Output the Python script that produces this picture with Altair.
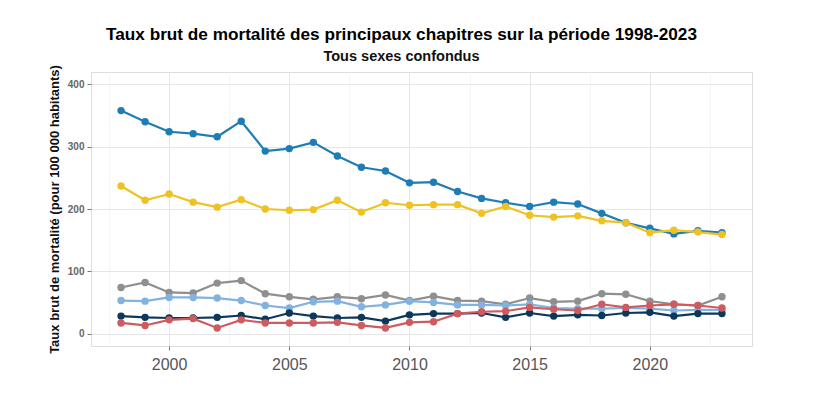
import altair as alt
import pandas as pd

years = list(range(1998, 2024))

series_names = [
    "Appareil circulatoire",
    "Tumeurs",
    "Appareil respiratoire",
    "Causes externes",
    "Système nerveux",
    "Troubles mentaux",
]
series_colors = ["#1f7db6", "#efc224", "#8f8f8f", "#82b2df", "#0d3859", "#cf5b5f"]

circulatoire = [358, 340, 324, 321, 316, 341, 293, 297, 307, 285, 267, 261, 242,
                243, 228, 217, 210, 204, 211, 208, 193, 178, 169, 160, 165, 162]
tumeurs = [237, 214, 224, 211, 203, 215, 200, 198, 199, 214, 195, 210, 206,
           207, 207, 193, 204, 190, 187, 189, 181, 178, 162, 166, 163, 159]
respiratoire = [74, 82, 66, 65, 81, 85, 64, 59, 55, 59, 56, 62, 53,
                60, 53, 52, 47, 57, 51, 52, 64, 63, 52, 47, 45, 59]
externes = [53, 52, 58, 58, 57, 53, 45, 41, 51, 52, 43, 46, 52,
            50, 46, 46, 45, 47, 41, 40, 40, 41, 40, 37, 38, 38]
nerveux = [28, 26, 25, 25, 26, 29, 23, 33, 28, 25, 26, 20, 30,
           32, 32, 33, 26, 33, 28, 30, 29, 33, 34, 28, 32, 32]
mentaux = [17, 13, 22, 24, 9, 22, 17, 17, 17, 18, 13, 9, 18,
           19, 32, 35, 36, 42, 39, 37, 47, 42, 45, 47, 45, 41]

all_values = [circulatoire, tumeurs, respiratoire, externes, nerveux, mentaux]

x_ticks = [1997.5, 2000, 2002.5, 2005, 2007.5, 2010, 2012.5, 2015, 2017.5, 2020, 2022.5]
y_ticks = [0, 50, 100, 150, 200, 250, 300, 350, 400]

rows = []
for order, (name, vals) in enumerate(zip(series_names, all_values)):
    for yr, v in zip(years, vals):
        rows.append({"annee": yr, "serie": name, "taux": v, "ordre": order})
df = pd.DataFrame(rows)

font = "Liberation Sans"

x_enc = alt.X(
    "annee:Q",
    scale=alt.Scale(domain=[1996.75, 2024.25], nice=False, zero=False),
    axis=alt.Axis(
        values=x_ticks,
        format="d",
        title=None,
        labelExpr="datum.value % 5 == 0 ? datum.label : ''",
        labelFontSize=16,
        labelFont=font,
        labelColor="#555555",
        labelPadding=6,
        tickSize=4,
        tickColor="#777777",
        tickOpacity={"condition": {"test": "datum.value % 5 != 0", "value": 0}, "value": 1},
        gridColor={"condition": {"test": "datum.value % 5 != 0", "value": "#f5f5f5"}, "value": "#e6e6e6"},
        domain=False,
    ),
)
y_enc = alt.Y(
    "taux:Q",
    scale=alt.Scale(domain=[-20, 420], nice=False, zero=False),
    axis=alt.Axis(
        values=y_ticks,
        format="d",
        title="Taux brut de mortalité (pour 100 000 habitants)",
        titleFontSize=13,
        titleFont=font,
        titleFontWeight="bold",
        titleColor="#111111",
        titlePadding=6,
        labelExpr="datum.value % 100 == 0 ? datum.label : ''",
        labelFontSize=10,
        labelFont=font,
        labelFontWeight="bold",
        labelColor="#666666",
        labelPadding=3,
        tickSize=4,
        tickColor="#777777",
        tickOpacity={"condition": {"test": "datum.value % 100 != 0", "value": 0}, "value": 1},
        gridColor={"condition": {"test": "datum.value % 100 != 0", "value": "#f5f5f5"}, "value": "#e6e6e6"},
        domain=False,
    ),
)
color_enc = alt.Color(
    "serie:N",
    scale=alt.Scale(domain=series_names, range=series_colors),
    legend=None,
)

base = alt.Chart(df)
lines = base.mark_line(strokeWidth=2.2).encode(
    x=x_enc, y=y_enc, color=color_enc, detail="serie:N", order="annee:Q"
)
points = base.mark_circle(size=55, opacity=1).encode(
    x="annee:Q", y="taux:Q", color=color_enc
)

chart = (
    alt.layer(lines, points)
    .properties(
        width=661,
        height=274,
        padding={"left": 40, "top": 17, "right": 10, "bottom": 5},
        title=alt.TitleParams(
            text="Taux brut de mortalité des principaux chapitres sur la période 1998-2023",
            subtitle="Tous sexes confondus",
            fontSize=17.2,
            fontWeight="bold",
            font=font,
            color="#000000",
            subtitleFontSize=14.5,
            subtitleFontWeight="bold",
            subtitleFont=font,
            subtitleColor="#111111",
            subtitlePadding=7,
            anchor="middle",
            frame="group",
            dx=-20,
            offset=1,
        ),
    )
    .configure_view(stroke="#a8a8a8", strokeWidth=1)
    .configure(background="white")
)

chart.save("out.html", embed_options={"renderer": "svg", "actions": False})
